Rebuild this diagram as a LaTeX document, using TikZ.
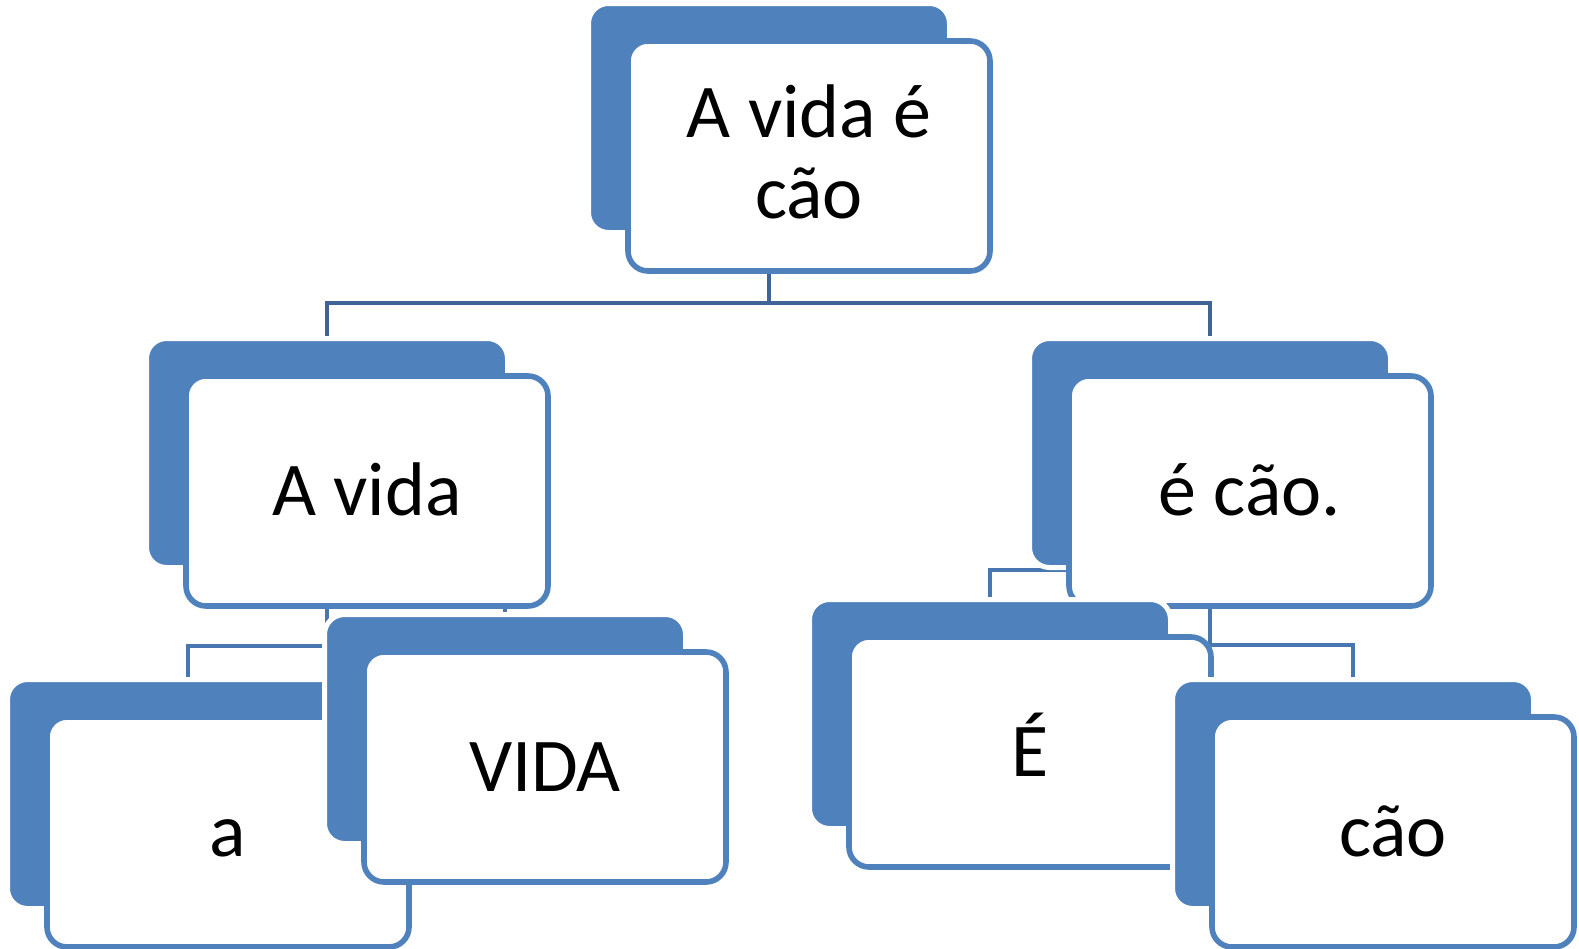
\documentclass[tikz,border=0pt]{standalone}
\usepackage{fontspec}
\setmainfont{Carlito}
\usetikzlibrary{positioning,calc,backgrounds}
\definecolor{boxblue}{RGB}{79,129,189}
\definecolor{linkdark}{RGB}{62,101,150}
\definecolor{linkblue}{RGB}{72,118,176}

\tikzset{
  backbox/.style = {rectangle, rounded corners=10pt, fill=boxblue, draw=white, line width=2.5pt,
    minimum width=180.5pt, minimum height=114.5pt, inner sep=0pt},
  frontbox/.style = {rectangle, rounded corners=10pt, fill=white, draw=boxblue, line width=2.8pt,
    minimum width=181pt, minimum height=115pt, inner sep=0pt,
    font=\fontsize{38pt}{40.5pt}\selectfont, text height=24pt, text depth=0pt},
  link/.style = {draw=linkblue, line width=2.4pt}
}

\begin{document}
\begin{tikzpicture}[x=0.5pt, y=-0.5pt]
  \useasboundingbox (0,0) rectangle (1579,948);

  % top
  \node (topb) [backbox] at (769,118) {};
  \node (top) [frontbox, align=center, text height=62pt] at ($(topb)+(40,38)$) {A vida é\\cão};

  % second row
  \node (avidab) [backbox] at (327,453) {};
  \node (avida) [frontbox] at ($(avidab)+(40,38)$) {A vida};
  \node (ecaob) [backbox] at (1210,453) {};
  \node (ecao) [frontbox] at ($(ecaob)+(40,38)$) {é cão.};

  % third row
  \node (ab) [backbox] at (188,794) {};
  \node (a) [frontbox] at ($(ab)+(40,38)$) {a};
  \node (vidab) [backbox] at (505,729) {};
  \node (vida) [frontbox] at ($(vidab)+(40,38)$) {VIDA};
  \node (eb) [backbox] at (990,714) {};
  \node (e) [frontbox] at ($(eb)+(40,38)$) {É};
  \node (caob) [backbox] at (1353,794) {};
  \node (cao) [frontbox] at ($(caob)+(40,38)$) {cão};

  \begin{scope}[on background layer]
    \draw [link, draw=linkdark] (topb.south) -- ++(0,68) -| (avidab.north);
    \draw [link, draw=linkdark] (topb.south) -- ++(0,68) -| (ecaob.north);
    \draw [link] (avidab.south) -- ++(0,76) -| (ab.north);
    \draw [link] (avidab.south) -- ++(0,15) -| (vidab.north);
    \draw [link] (ecaob.south) -- ++(0,75) -| (caob.north);
    \draw [link] (ecaob.south) -| (eb.north);
  \end{scope}
\end{tikzpicture}
\end{document}
